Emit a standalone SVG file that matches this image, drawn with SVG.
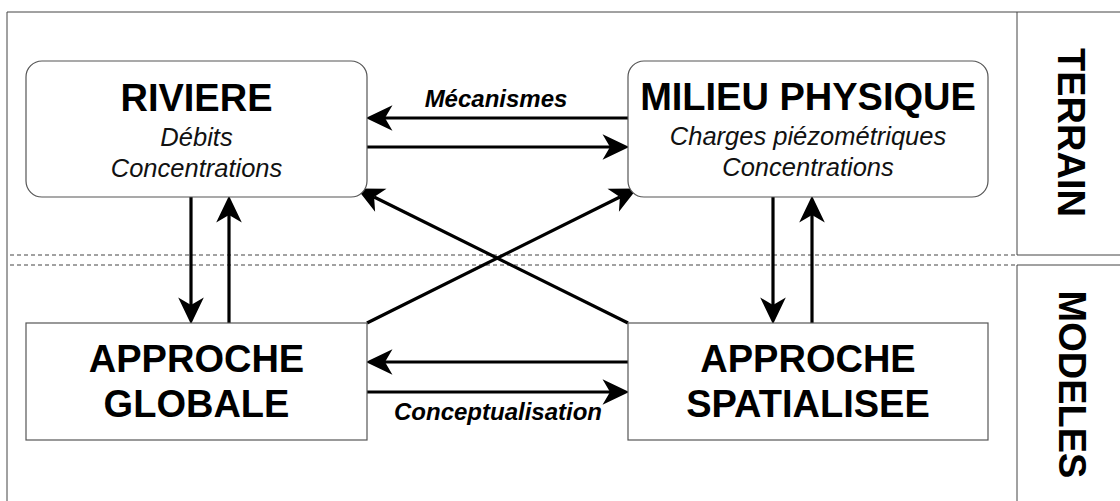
<svg xmlns="http://www.w3.org/2000/svg" width="1120" height="501" viewBox="0 0 1120 501">
<style>
.frame{stroke:#444;stroke-width:1;fill:none}
.dash{stroke:#444;stroke-width:1;stroke-dasharray:4 3;fill:none}
.box{fill:#fff;stroke:#555;stroke-width:1.2}
.title{font-family:"Liberation Sans",Arial,sans-serif;font-weight:bold;font-size:38px;fill:#000;text-anchor:middle}
.sub{font-family:"Liberation Sans",Arial,sans-serif;font-style:italic;font-size:25.5px;fill:#111;text-anchor:middle}
.lab{font-family:"Liberation Sans",Arial,sans-serif;font-style:italic;font-weight:bold;font-size:24px;fill:#000;text-anchor:middle}
.side{font-family:"Liberation Sans",Arial,sans-serif;font-weight:bold;font-size:38px;fill:#000;text-anchor:middle}
.arr{stroke:#000;stroke-width:3.2;fill:none;marker-end:url(#ah)}
</style>
<defs>
<marker id="ah" markerUnits="userSpaceOnUse" markerWidth="32" markerHeight="30" viewBox="-2 -14 30 28" refX="7" refY="0" orient="auto">
<path d="M0,-12 L25,0 L0,12 L7,0 Z" fill="#000"/>
</marker>
</defs>
<rect width="1120" height="501" fill="#fff"/>
<g id="frame">
<path class="frame" d="M7,501 V12 H1120"/>
<path class="frame" d="M1017,12 V255 H1120 M1017,501 V265 H1120"/>
<path class="dash" d="M10,255 H1017 M10,265 H1017"/>
</g>
<g id="connectors">
<path class="arr" d="M628,118 H385"/>
<path class="arr" d="M367,147 H610"/>
<path class="arr" d="M628,362 H385"/>
<path class="arr" d="M367,392 H610"/>
<path class="arr" d="M191,197 V305"/>
<path class="arr" d="M229,323 V215"/>
<path class="arr" d="M773,197 V305"/>
<path class="arr" d="M812,323 V215"/>
<path class="arr" d="M367,323 L619.9,197"/>
<path class="arr" d="M628,323 L374.1,197"/>
</g>
<g id="riviere">
<rect class="box" x="26" y="61" width="341" height="136" rx="16"/>
<text class="title" x="196.5" y="111">RIVIERE</text>
<text class="sub" x="196.5" y="146">Débits</text>
<text class="sub" x="196.5" y="177">Concentrations</text>
</g>
<g id="milieu">
<rect class="box" x="628" y="61" width="360" height="136" rx="16"/>
<text class="title" x="808" y="110">MILIEU PHYSIQUE</text>
<text class="sub" x="808" y="145">Charges piézométriques</text>
<text class="sub" x="808" y="176">Concentrations</text>
</g>
<g id="globale">
<rect class="box" x="26" y="323" width="341" height="117"/>
<text class="title" x="196.5" y="372">APPROCHE</text>
<text class="title" x="196.5" y="417">GLOBALE</text>
</g>
<g id="spatialisee">
<rect class="box" x="628" y="323" width="360" height="117"/>
<text class="title" x="808" y="372">APPROCHE</text>
<text class="title" x="808" y="417">SPATIALISEE</text>
</g>
<g id="labels">
<text class="lab" x="496" y="107">Mécanismes</text>
<text class="lab" x="498" y="420">Conceptualisation</text>
</g>
<g id="terrain">
<text class="side" transform="translate(1058,132.5) rotate(90)">TERRAIN</text>
</g>
<g id="modeles">
<text class="side" transform="translate(1059,384.5) rotate(90)">MODELES</text>
</g>
</svg>
